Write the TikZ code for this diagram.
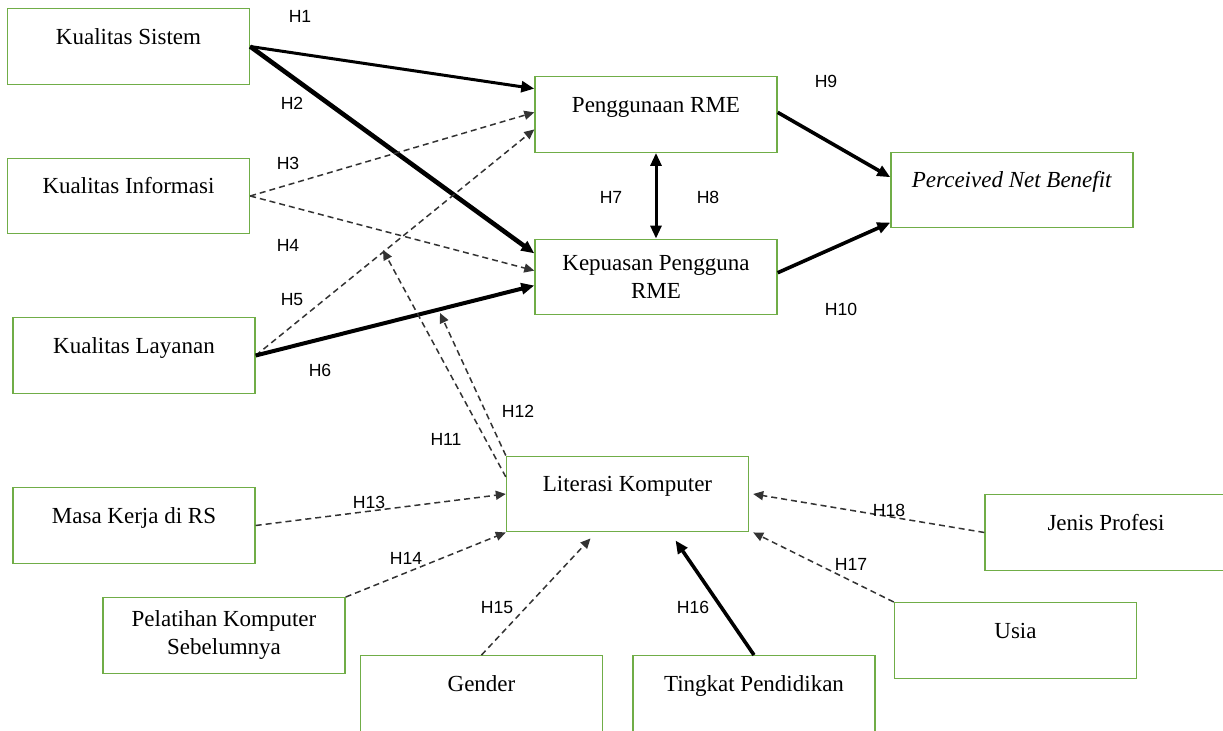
\documentclass[tikz,border=0pt]{standalone}
\usepackage{fontspec}
\setmainfont{Liberation Serif}
\setsansfont{Liberation Sans}
\usetikzlibrary{arrows.meta}
\definecolor{boxgreen}{RGB}{112,173,71}

\begin{document}
\begin{tikzpicture}[x=0.5pt, y=-0.5pt, >={Triangle[length=6.5pt,width=5.5pt]},
    var/.style={draw=boxgreen, line width=0.7pt, minimum width=121pt, minimum height=37.75pt,
        inner sep=0pt, align=center, font=\fontsize{11.5}{14}\selectfont},
    one/.style={text height=8pt, text depth=10pt},
    hyp/.style={font=\sffamily\fontsize{8.8}{10}\selectfont},
    strong/.style={->, line width=1.8pt},
    weak/.style={->, black!80, line width=0.75pt, dash pattern=on 3pt off 2pt,
        >={Triangle[length=5pt,width=4.5pt]}}]
    \useasboundingbox (0,0) rectangle (1223,731);

    % variables
    \node[var, one] (ks) at (128.5,46.5) {Kualitas Sistem};
    \node[var, one] (ki) at (128.5,196) {Kualitas Informasi};
    \node[var, one] (kl) at (134,355.5) {Kualitas Layanan};
    \node[var, one] (mk) at (134,525.5) {Masa Kerja di RS};
    \node[var] (pk) at (224,635.5) {Pelatihan Komputer\\Sebelumnya};
    \node[var, one] (gd) at (481.5,693.5) {Gender};
    \node[var, one] (tp) at (754,693.5) {Tingkat Pendidikan};
    \node[var, one] (us) at (1015.5,640.5) {Usia};
    \node[var, one] (jp) at (1106,532.5) {Jenis Profesi};
    \node[var, one] (lk) at (627.5,494) {Literasi Komputer};
    \node[var, one] (pr) at (656,114.5) {Penggunaan RME};
    \node[var] (kp) at (656,277) {Kepuasan Pengguna\\RME};
    \node[var, one] (pnb) at (1012,190) {\textit{Perceived Net Benefit}};

    \coordinate (h11end) at (383,250);
    \coordinate (h12end) at (440,313);

    % hypotheses
    \draw[strong, line width=1.5pt] (ks.east) -- (pr.168);
    \draw[strong, line width=2.3pt] (ks.east) -- (kp.169);
    \draw[weak] (ki.east) -- (pr.179);
    \draw[weak] (ki.east) -- (kp.177);
    \draw[weak] (kl.east) -- (pr.187);
    \draw[strong, line width=2pt] (kl.east) -- (kp.184);
    \draw[<->, line width=1.5pt] (pr.south) -- (kp.north);
    \draw[strong] (pr.1) -- (pnb.174);
    \draw[strong] (kp.2) -- (pnb.195);
    \draw[weak] (lk.172) -- (h11end);
    \draw[weak] (lk.north west) -- (h12end);
    \draw[weak] (mk.east) -- (lk.west);
    \draw[weak] (pk.north east) -- (lk.south west);
    \draw[weak] (gd.north) -- ([xshift=-18.5pt,yshift=-3pt]lk.south);
    \draw[strong] (tp.north) -- ([xshift=24pt,yshift=-4pt]lk.south);
    \draw[weak] (us.north west) -- ([xshift=2pt]lk.south east);
    \draw[weak] (jp.west) -- ([xshift=2pt]lk.east);

    % labels
    \node[hyp] (l1) at (300,16) {H1};
    \node[hyp] (l2) at (292,103) {H2};
    \node[hyp] (l3) at (288,163) {H3};
    \node[hyp] (l4) at (288,245) {H4};
    \node[hyp] (l5) at (292,300) {H5};
    \node[hyp] (l6) at (320,370) {H6};
    \node[hyp] (l7) at (611,197) {H7};
    \node[hyp] (l8) at (708,197) {H8};
    \node[hyp] (l9) at (826,81) {H9};
    \node[hyp] (l10) at (841,309) {H10};
    \node[hyp] (l11) at (446,439) {H11};
    \node[hyp] (l12) at (518,411) {H12};
    \node[hyp] (l13) at (369,502) {H13};
    \node[hyp] (l14) at (406,558) {H14};
    \node[hyp] (l15) at (497,608) {H15};
    \node[hyp] (l16) at (693,607) {H16};
    \node[hyp] (l17) at (851,564) {H17};
    \node[hyp] (l18) at (889,510) {H18};
\end{tikzpicture}
\end{document}
